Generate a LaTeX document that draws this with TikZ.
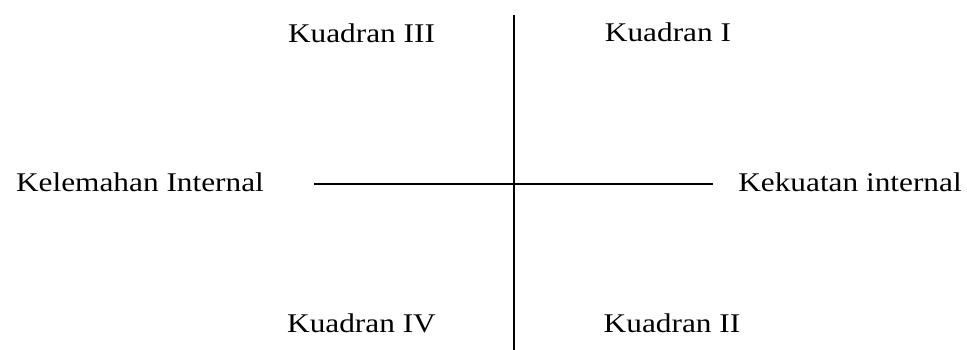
\documentclass[tikz,border=0pt]{standalone}
\usepackage{fontspec}
\setmainfont{Liberation Serif}[FakeStretch=1.16]
\begin{document}
\begin{tikzpicture}[x=1pt,y=-1pt,
  lbl/.style={anchor=base,inner sep=0pt,font=\fontsize{27}{32}\selectfont},
  axis/.style={line width=1.4pt,black}]
\useasboundingbox (0,0) rectangle (967,350);
\node[lbl] (q3) at (361.5,43) {Kuadran III};
\node[lbl] (q1) at (668,42) {Kuadran I};
\node[lbl] (q4) at (361.5,332) {Kuadran IV};
\node[lbl] (q2) at (672,332) {Kuadran II};
\node[lbl] (kl) at (140,192) {Kelemahan Internal};
\node[lbl] (kk) at (850,192) {Kekuatan internal};
\coordinate (vt) at (514,15);
\coordinate (vb) at (514,350);
\coordinate (hl) at (314,184);
\coordinate (hr) at (713,184);
\draw[axis] (vt) -- (vb);
\draw[axis] (hl) -- (hr);
\end{tikzpicture}
\end{document}
